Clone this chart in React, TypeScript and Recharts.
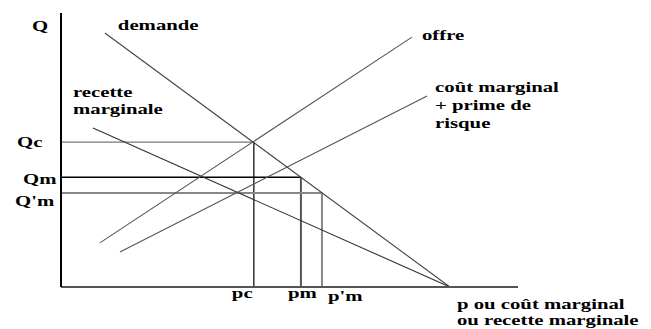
import React from "react";
import { ComposedChart, Line, XAxis, YAxis, ReferenceLine, ReferenceDot } from "recharts";

// ---- data (in chart units: x = price 0..100, y = quantity 0..100) ----
const demande = [{ x: 9.6, y: 92.7 }, { x: 85.1, y: 0 }];
const recetteMarginale = [{ x: 7.0, y: 58.0 }, { x: 85.1, y: 0 }];
const offre = [{ x: 8.5, y: 16.1 }, { x: 76.8, y: 91.2 }];
const coutMarginalPrime = [{ x: 12.9, y: 12.8 }, { x: 80.1, y: 69.7 }];

const qValues = [100, 52.9, 40.1, 34.3];
const qLabels = ["Q", "Qc", "Qm", "Q'm"];
const pValues = [42.2, 52.5, 57.1];
const pLabels = ["pc", "pm", "p'm"];

const axisTitleX = ["p ou coût marginal", "ou recette marginale"];
const labelDemande = ["demande"];
const labelRecette = ["recette", "marginale"];
const labelOffre = ["offre"];
const labelCout = ["coût marginal", "+ prime de", "risque"];

// ---- styles ----
const FONT = "Liberation Serif, Times New Roman, DejaVu Serif, serif";
const FS = 17;
const SX = 1.22;
const SY = 0.86;

const yTickOffsets: Record<string, [number, number]> = {
  Q: [-29, 18],
  Qc: [-44, 5],
  Qm: [-38, 7],
  "Q'm": [-46, 13],
};
const xTickOffsets: Record<string, [number, number]> = {
  pc: [-22, 11],
  pm: [-13, 11],
  "p'm": [6, 14],
};

function StretchText({ x, y, lines, lh }: { x: number; y: number; lines: string[]; lh: number }) {
  return (
    <g>
      {lines.map((t, i) => (
        <text
          key={i}
          transform={`translate(${x},${y + i * lh}) scale(${SX},${SY})`}
          x={0}
          y={0}
          style={{ fontFamily: FONT, fontWeight: 700, fontSize: FS }}
          fill="#000"
        >
          {t}
        </text>
      ))}
    </g>
  );
}

const YTick = (props: any) => {
  const { x, y, payload } = props;
  const idx = qValues.indexOf(payload.value);
  const label = qLabels[idx] ?? "";
  const [dx, dy] = yTickOffsets[label] ?? [0, 0];
  return <StretchText x={x + dx} y={y + dy} lines={[label]} lh={0} />;
};

const XTick = (props: any) => {
  const { x, y, payload } = props;
  const idx = pValues.indexOf(payload.value);
  const label = pLabels[idx] ?? "";
  const [dx, dy] = xTickOffsets[label] ?? [0, 0];
  return <StretchText x={x + dx} y={y + dy} lines={[label]} lh={0} />;
};

const annotationShape = (lines: string[], dx: number, dy: number, lh: number) => (p: any) =>
  <StretchText x={p.cx + dx} y={p.cy + dy} lines={lines} lh={lh} />;

export default function App() {
  const [pc, pm, ppm] = pValues;
  const [, qc, qm, qpm] = qValues;
  return (
    <ComposedChart
      width={643}
      height={321}
      margin={{ top: 5, right: 133, bottom: 0, left: 0 }}
      style={{ background: "#fff" }}
    >
      <XAxis
        type="number"
        dataKey="x"
        domain={[0, 100]}
        ticks={pValues}
        allowDataOverflow
        height={42}
        tickSize={0}
        tickMargin={0}
        tickLine={false}
        axisLine={{ stroke: "#555", strokeWidth: 2 }}
        tick={<XTick />}
        interval={0}
      />
      <YAxis
        type="number"
        dataKey="y"
        domain={[0, 100]}
        ticks={qValues}
        allowDataOverflow
        width={53}
        tickSize={0}
        tickMargin={0}
        tickLine={false}
        axisLine={{ stroke: "#000", strokeWidth: 2 }}
        tick={<YTick />}
        interval={0}
      />

      {/* guide lines */}
      <ReferenceLine segment={[{ x: 0, y: qc }, { x: pc, y: qc }]} stroke="#777" strokeWidth={1.2} />
      <ReferenceLine segment={[{ x: pc, y: qc }, { x: pc, y: 0 }]} stroke="#000" strokeWidth={1.2} />
      <ReferenceLine segment={[{ x: 0, y: qm }, { x: pm, y: qm }]} stroke="#000" strokeWidth={1.5} />
      <ReferenceLine segment={[{ x: pm, y: qm }, { x: pm, y: 0 }]} stroke="#555" strokeWidth={2} />
      <ReferenceLine segment={[{ x: 0, y: qpm }, { x: ppm, y: qpm }]} stroke="#888" strokeWidth={2} />
      <ReferenceLine segment={[{ x: ppm, y: qpm }, { x: ppm, y: 0 }]} stroke="#888" strokeWidth={2} />

      {/* curves */}
      <Line data={demande} dataKey="y" type="linear" stroke="#444" strokeWidth={1.1} dot={false} isAnimationActive={false} />
      <Line data={recetteMarginale} dataKey="y" type="linear" stroke="#333" strokeWidth={1.1} dot={false} isAnimationActive={false} />
      <Line data={offre} dataKey="y" type="linear" stroke="#555" strokeWidth={1.1} dot={false} isAnimationActive={false} />
      <Line data={coutMarginalPrime} dataKey="y" type="linear" stroke="#555" strokeWidth={1.1} dot={false} isAnimationActive={false} />

      {/* annotations anchored to curve ends */}
      <ReferenceDot x={demande[0].x} y={demande[0].y} r={1} shape={annotationShape(labelDemande, 13, -3, 0)} />
      <ReferenceDot x={recetteMarginale[0].x} y={recetteMarginale[0].y} r={1} shape={annotationShape(labelRecette, -20, -31, 17)} />
      <ReferenceDot x={offre[1].x} y={offre[1].y} r={1} shape={annotationShape(labelOffre, 10, 3, 0)} />
      <ReferenceDot x={coutMarginalPrime[1].x} y={coutMarginalPrime[1].y} r={1} shape={annotationShape(labelCout, 8, -4, 18)} />
      <ReferenceDot x={100} y={0} r={1} shape={annotationShape(axisTitleX, -61, 22, 16)} />
    </ComposedChart>
  );
}
